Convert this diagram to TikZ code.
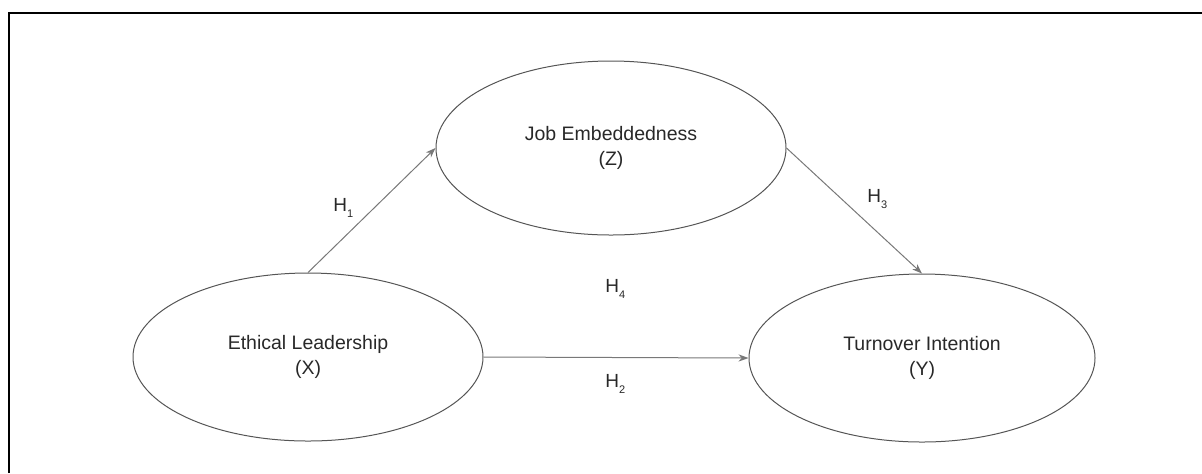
\documentclass[tikz,border=0pt]{standalone}
\usepackage{fontspec}
\setmainfont{Liberation Sans}
\usetikzlibrary{arrows.meta,shapes.geometric}

\newcommand{\hypsub}[1]{\raisebox{-3.4pt}{\fontsize{5.5}{6}\selectfont #1}}

\begin{document}
\begin{tikzpicture}[x=0.5pt,y=-0.5pt]
    \definecolor{linegray}{RGB}{85,85,85}
    \definecolor{arrowgray}{RGB}{120,120,120}
    \definecolor{textgray}{RGB}{40,40,40}
    \tikzset{
        construct/.style={ellipse,draw=linegray,line width=0.5pt,
            minimum width=175pt,minimum height=84pt,align=center,
            text=textgray,font=\fontsize{9.75}{12.2}\selectfont},
        hyparrow/.style={draw=arrowgray,line width=0.5pt,
            -{Stealth[length=5pt,width=3.6pt]}},
        hyplabel/.style={text=textgray,inner sep=0pt,anchor=base west,
            font=\fontsize{9.5}{11}\selectfont}
    }

    \useasboundingbox (0,0) rectangle (1202,473);

    % frame
    \draw[line width=1pt] (9,473) -- (9,13) -- (1202,13);

    % constructs
    \node[construct] (lead) at (308,357) {Ethical Leadership\\(X)};
    \node[construct,minimum height=87pt] (embed) at (611,148) {Job Embeddedness\\(Z)};
    \node[construct,minimum width=173pt] (turn) at (922,358) {Turnover Intention\\(Y)};

    % hypotheses
    \draw[hyparrow] (lead.north) -- (embed.west);
    \draw[hyparrow] (embed.east) -- (turn.north);
    \draw[hyparrow] (lead.east) -- (turn.west);

    \node[hyplabel] (h1) at (333,211) {H\hypsub{1}};
    \node[hyplabel] (h3) at (867,202) {H\hypsub{3}};
    \node[hyplabel] (h4) at (605,292) {H\hypsub{4}};
    \node[hyplabel] (h2) at (605,387) {H\hypsub{2}};
\end{tikzpicture}
\end{document}
